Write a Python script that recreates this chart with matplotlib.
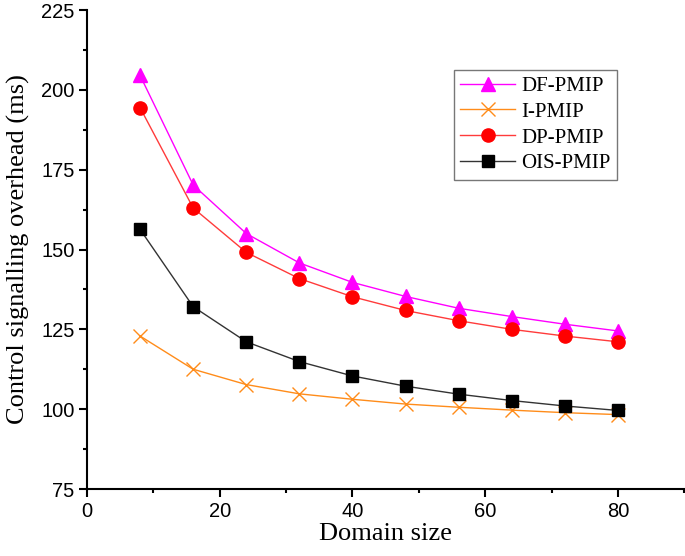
import numpy as np
import matplotlib.pyplot as plt
from matplotlib.ticker import MultipleLocator

# Domain size
domain = [8, 16, 24, 32, 40, 48, 56, 64, 72, 80]

# Control signalling overhead (ms)
df_pmip = [204.5, 170.2, 155.0, 145.8, 139.7, 135.3, 131.6, 129.0, 126.6, 124.5]
i_pmip = [122.9, 112.5, 107.7, 104.8, 103.1, 101.6, 100.6, 99.7, 98.9, 98.3]
dp_pmip = [194.4, 163.0, 149.1, 140.9, 135.2, 130.9, 127.7, 125.0, 122.9, 121.1]
ois_pmip = [156.3, 132.1, 121.1, 114.9, 110.4, 107.2, 104.7, 102.7, 101.0, 99.6]

plt.rcParams['font.family'] = ['Liberation Sans', 'DejaVu Sans']

fig = plt.figure(figsize=(6.85, 5.56), dpi=100)
ax = fig.add_axes([0.127, 0.1205, 0.872, 0.8615])

ax.plot(domain, df_pmip, color='#ff00ff', lw=1, marker='^', ms=10, mec='#ff00ff', label='DF-PMIP')
ax.plot(domain, i_pmip, color='#ff8c1a', lw=1, marker='x', ms=10, mew=1, label='I-PMIP')
ax.plot(domain, dp_pmip, color='#ff3b3b', lw=1, marker='o', ms=9.5, mfc='#ff0000', mec='#ff0000', label='DP-PMIP')
ax.plot(domain, ois_pmip, color='#333333', lw=1, marker='s', ms=8.5, mfc='black', mec='black', label='OIS-PMIP')

ax.set_xlim(0, 90)
ax.set_ylim(75, 225)
ax.xaxis.set_major_locator(MultipleLocator(20))
ax.xaxis.set_minor_locator(MultipleLocator(10))
ax.yaxis.set_major_locator(MultipleLocator(25))
ax.yaxis.set_minor_locator(MultipleLocator(12.5))

ax.spines['top'].set_visible(False)
ax.spines['right'].set_visible(False)
ax.spines['left'].set_linewidth(1.5)
ax.spines['bottom'].set_linewidth(1.5)
ax.tick_params(which='major', direction='out', length=6, width=1.5, labelsize=14.5, pad=3)
ax.tick_params(which='minor', direction='out', length=3, width=1.5)

ax.set_xlabel('Domain size', family='Liberation Serif', fontsize=19, labelpad=2)
ax.set_ylabel('Control signalling overhead (ms)', family='Liberation Serif', fontsize=19, labelpad=8)

leg = ax.legend(loc='upper right', bbox_to_anchor=(0.90, 0.874), bbox_transform=fig.transFigure,
                prop={'family': 'Liberation Serif', 'size': 15}, fancybox=False,
                edgecolor='#555555', handlelength=2.6, borderpad=0.3, labelspacing=0.3,
                handletextpad=0.3, borderaxespad=0)
leg.get_frame().set_linewidth(1)

fig.savefig('out.png', dpi=100)
